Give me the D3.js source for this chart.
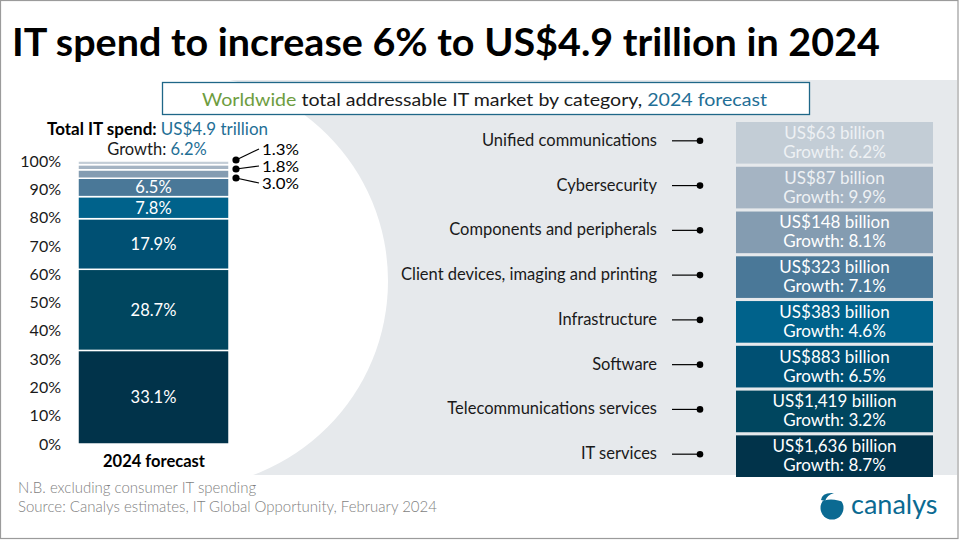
<!DOCTYPE html>
<html>
<head>
<meta charset="utf-8">
<script src="https://cdn.jsdelivr.net/npm/d3@7"></script>
<style>
  html,body{margin:0;padding:0;background:#fff;}
  svg{display:block;}
  text{font-family:Lato,"Open Sans","DejaVu Sans",sans-serif;}
</style>
</head>
<body>
<script>
// ---- data ----
const categories = ["IT services","Telecommunications services","Software","Infrastructure",
  "Client devices, imaging and printing","Components and peripherals","Cybersecurity","Unified communications"];
const shares = [33.1, 28.7, 17.9, 7.8, 6.5, 3.0, 1.8, 1.3];
const spendBillion = ["1,636","1,419","883","383","323","148","87","63"];
const growth = [8.7, 3.2, 6.5, 4.6, 7.1, 8.1, 9.9, 6.2];
const colors = ["#01334A","#00465F","#005073","#00628B","#4A7898","#849CB1","#A5B4C3","#C3CDD6"];
const yTicks = [0,10,20,30,40,50,60,70,80,90,100];
const barCategory = ["2024 forecast"];

const W = 960, H = 540;
const svg = d3.select("body").append("svg").attr("width", W).attr("height", H);

// background grey panel with white circular cut-out on the left
svg.append("rect").attr("x",0).attr("y",0).attr("width",W).attr("height",H).attr("fill","#fff");
svg.append("rect").attr("x",0).attr("y",80).attr("width",957).attr("height",395).attr("fill","#E6E9EC");
svg.append("circle").attr("cx",181).attr("cy",281).attr("r",207).attr("fill","#fff");
svg.append("rect").attr("x",0).attr("y",80).attr("width",182).attr("height",395).attr("fill","#fff");
// outer frame
svg.append("rect").attr("x",0.5).attr("y",0.5).attr("width",957.5).attr("height",538).attr("fill","none").attr("stroke","#9b9b9b").attr("stroke-width",1.2);

// title
const title = svg.append("text").attr("x",12).attr("y",56).attr("font-size",39).attr("font-weight",700)
  .attr("fill","#000").text("IT spend to increase 6% to US$4.9 trillion in 2024");
title.attr("textLength",868).attr("lengthAdjust","spacingAndGlyphs");

// subtitle box
svg.append("rect").attr("x",162.5).attr("y",82.5).attr("width",647).attr("height",32)
  .attr("fill","#fff").attr("stroke","#1F6788").attr("stroke-width",1.3);
const sub = svg.append("text").attr("x",202).attr("y",105.5).attr("font-size",17.5).attr("fill","#1a1a1a")
  .attr("textLength",565).attr("lengthAdjust","spacingAndGlyphs");
sub.append("tspan").attr("fill","#6E9D3F").text("Worldwide");
sub.append("tspan").text(" total addressable  IT market by category, ");
sub.append("tspan").attr("fill","#1F6F96").text("2024 forecast");

// ---- stacked bar ----
const y = d3.scaleLinear().domain([0,100]).range([444,161]);
const x = d3.scaleBand().domain(barCategory).range([78,229]).padding(0);
const yAxis = d3.axisLeft(y).tickValues(yTicks).tickFormat(d => d + "%").tickSize(0).tickPadding(0);
const ag = svg.append("g").attr("transform","translate(61,0)").call(yAxis);
ag.select(".domain").remove();
ag.selectAll("text").attr("font-family","Lato,sans-serif").attr("font-size",16).attr("fill","#1a1a1a");

const stackData = [];
let cum = 0;
shares.forEach((s,i) => { stackData.push({i, y0:cum, y1:cum+s, s}); cum += s; });
const totalShare = d3.sum(shares);
const yS = v => y(v * 100 / totalShare);

svg.append("g").selectAll("rect").data(stackData).join("rect")
  .attr("x", x("2024 forecast")).attr("width", x.bandwidth())
  .attr("y", d => yS(d.y1)).attr("height", d => yS(d.y0) - yS(d.y1))
  .attr("fill", d => colors[d.i]).attr("stroke","#fff").attr("stroke-width",1.5);

svg.append("g").selectAll("text").data(stackData.filter(d => d.s >= 5)).join("text")
  .attr("x", x("2024 forecast") + x.bandwidth()/2)
  .attr("y", d => (yS(d.y0)+yS(d.y1))/2 + 6)
  .attr("text-anchor","middle").attr("font-size",16.5).attr("fill","#fff")
  .text(d => d.s.toFixed(1) + "%");

// callouts for small segments
const small = stackData.filter(d => d.s < 5);
const dotY = {5:178, 6:169, 7:160};
const lblY = {5:184, 6:167, 7:150};
const cg = svg.append("g");
small.forEach(d => {
  cg.append("line").attr("x1",236).attr("y1",dotY[d.i]).attr("x2",259).attr("y2",lblY[d.i]-1)
    .attr("stroke","#000").attr("stroke-width",1.2);
  cg.append("circle").attr("cx",236).attr("cy",dotY[d.i]).attr("r",3.6).attr("fill","#000");
  cg.append("text").attr("x",262).attr("y",lblY[d.i]+5).attr("font-size",15).attr("fill","#000")
    .attr("textLength",37).attr("lengthAdjust","spacingAndGlyphs")
    .text(d.s.toFixed(1) + "%");
});

// header of bar
const t1 = svg.append("text").attr("x",47).attr("y",135).attr("font-size",16.5)
  .attr("textLength",221).attr("lengthAdjust","spacingAndGlyphs");
t1.append("tspan").attr("font-weight",700).attr("fill","#000").text("Total IT spend: ");
t1.append("tspan").attr("fill","#1F6F96").text("US$4.9 trillion");
const t2 = svg.append("text").attr("x",157).attr("y",155).attr("text-anchor","middle").attr("font-size",16.5);
t2.append("tspan").attr("fill","#1a1a1a").text("Growth: ");
t2.append("tspan").attr("fill","#1F6F96").text("6.2%");

svg.append("text").attr("x",154).attr("y",467).attr("text-anchor","middle").attr("font-size",16.5)
  .attr("font-weight",700).attr("fill","#000").text(barCategory[0]);

// ---- right-side boxes ----
const order = d3.range(categories.length).reverse(); // top to bottom
const band = d3.scaleBand().domain(order.map(i => categories[i])).range([122, 477]).paddingInner(0.07).paddingOuter(0.0);
const rg = svg.append("g");
order.forEach(i => {
  const c = categories[i];
  const by = band(c), bh = band.bandwidth(), cy = by + bh/2;
  rg.append("rect").attr("x",736).attr("y",by).attr("width",197).attr("height",bh).attr("fill",colors[i]);
  const tc = i >= 6 ? "#EEF1F4" : "#fff";
  rg.append("text").attr("x",834.5).attr("y",cy - 4).attr("text-anchor","middle").attr("font-size",17).attr("fill",tc)
    .text("US$" + spendBillion[i] + " billion");
  rg.append("text").attr("x",834.5).attr("y",cy + 15).attr("text-anchor","middle").attr("font-size",17).attr("fill",tc)
    .text("Growth: " + growth[i].toFixed(1) + "%");
  rg.append("text").attr("x",657).attr("y",cy + 3).attr("text-anchor","end").attr("font-size",16.5).attr("fill","#1a1a1a")
    .text(c);
  rg.append("line").attr("x1",672).attr("x2",700).attr("y1",cy-2).attr("y2",cy-2).attr("stroke","#000").attr("stroke-width",1.2);
  rg.append("circle").attr("cx",700).attr("cy",cy-2).attr("r",3.3).attr("fill","#000");
});

// ---- footer ----
svg.append("text").attr("x",18).attr("y",493).attr("font-size",15).attr("font-weight",300).attr("fill","#7f7f7f").text("N.B. excluding consumer IT spending");
svg.append("text").attr("x",18).attr("y",512).attr("font-size",15).attr("font-weight",300).attr("fill","#7f7f7f").text("Source: Canalys estimates, IT Global Opportunity,  February 2024");

// logo
const lg = svg.append("g");
lg.append("circle").attr("cx",832).attr("cy",508).attr("r",11.5).attr("fill","#0B6A92");
lg.append("path").attr("d","M 818 503 Q 830 496 846 503 L 846 499 Q 830 492 818 499 Z").attr("fill","#fff");
lg.append("path").attr("d","M 821 500 Q 822 492 834 493 Q 827 495 825 501 Z").attr("fill","#0B6A92");
lg.append("text").attr("x",851).attr("y",514).attr("font-size",27).attr("fill","#0B6A92").text("canalys");
</script>
</body>
</html>
